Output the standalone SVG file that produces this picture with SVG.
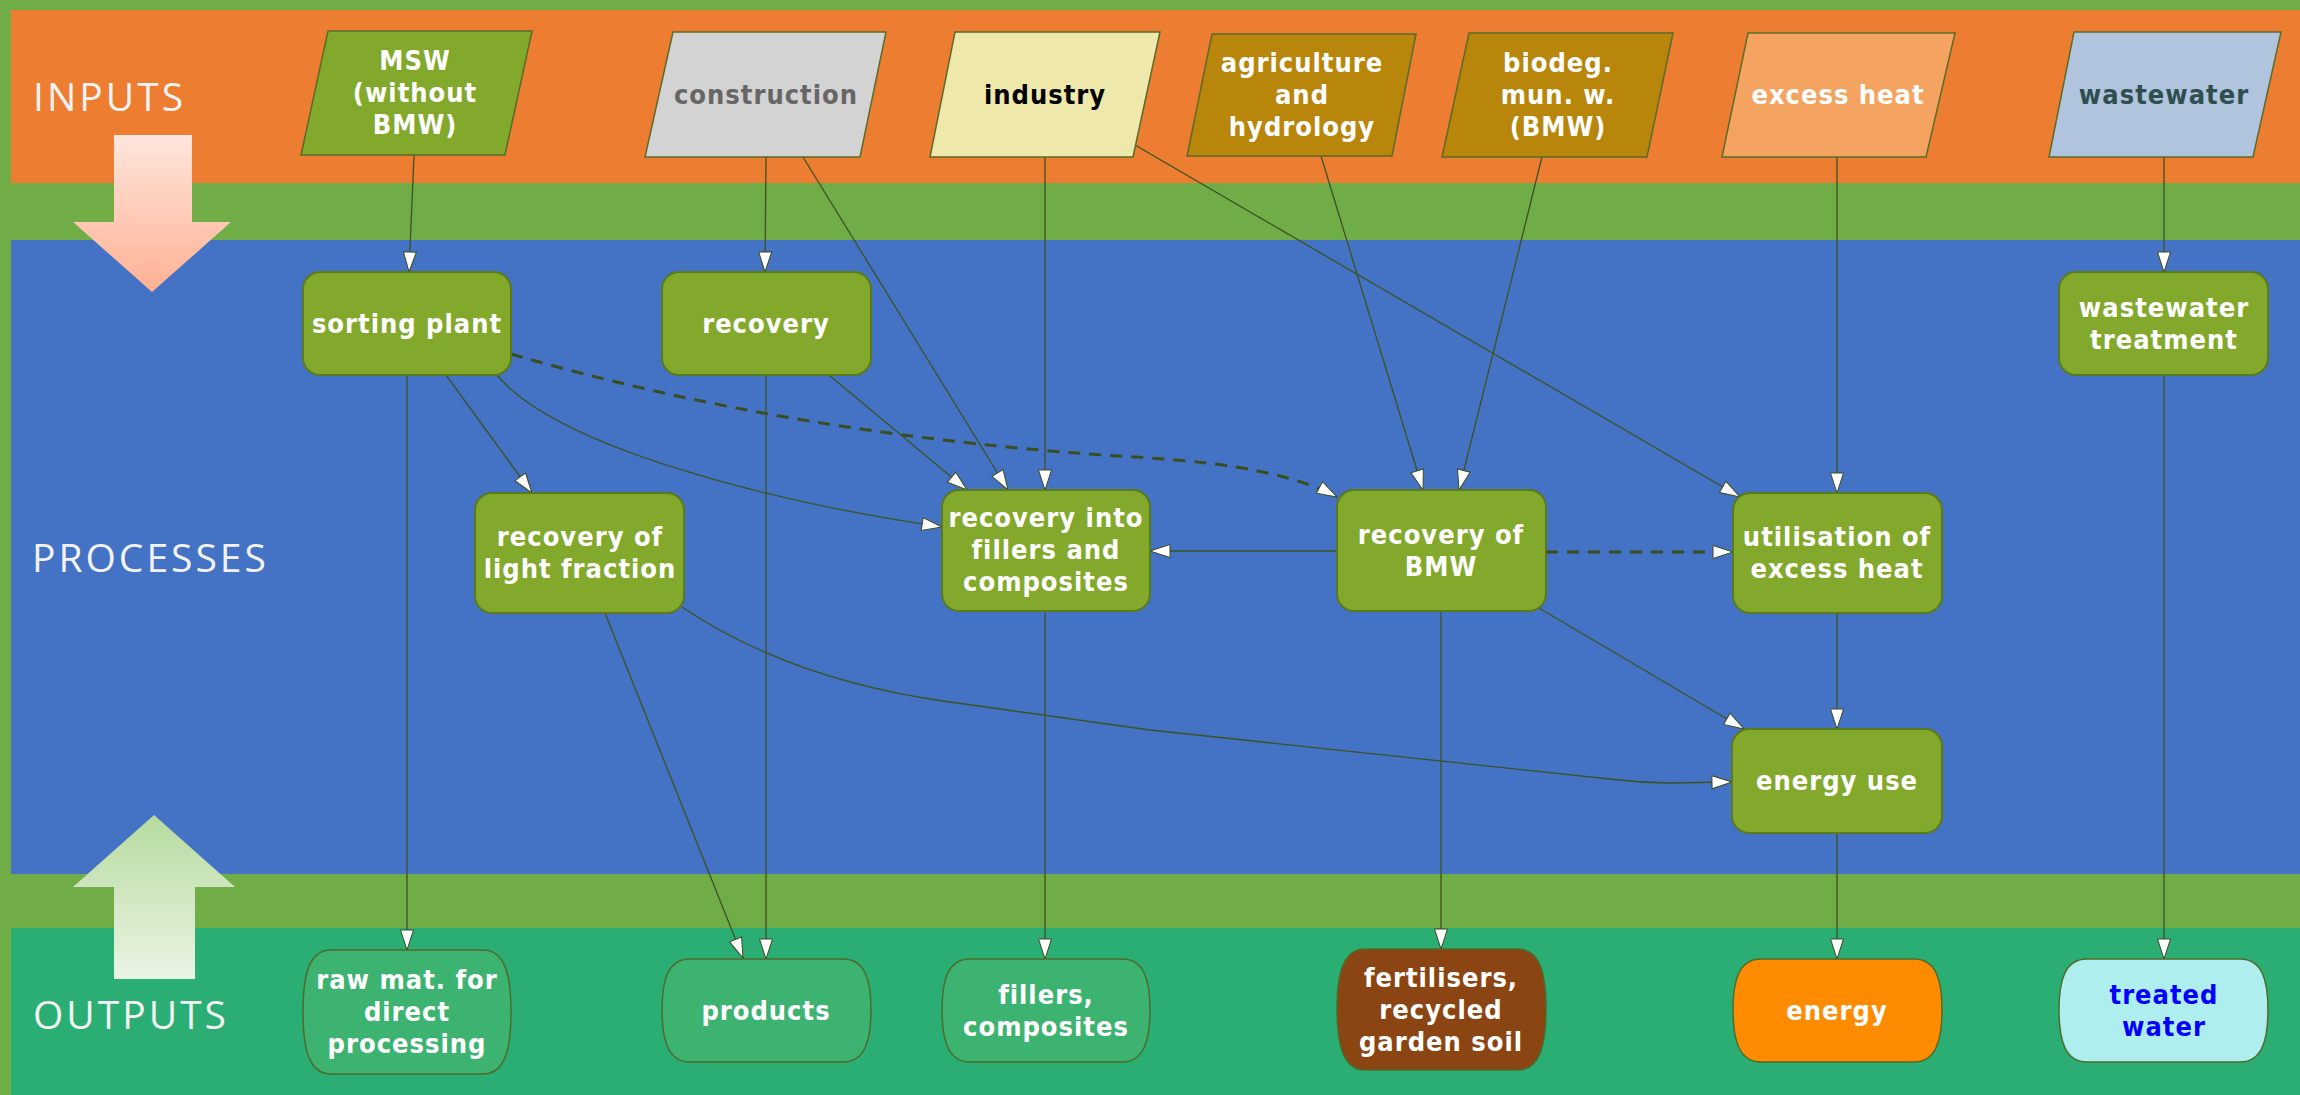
<svg xmlns="http://www.w3.org/2000/svg" width="2300" height="1095" viewBox="0 0 2300 1095">
<defs>
<style>
.lbl{font-family:"Open Sans","DejaVu Sans",sans-serif;font-size:39px;letter-spacing:3px;fill:#F2F2F2}
.t{font-family:"DejaVu Sans Condensed","DejaVu Sans",sans-serif;font-size:27px;font-weight:700;letter-spacing:1px;text-anchor:middle;fill:#FFFFFF}
.proc{fill:#83A92C;stroke:#5A7A1C;stroke-width:2}
.inp{stroke:#5A6B2A;stroke-width:1.5}
.out{stroke:#4F6B2A;stroke-width:1.5}
.c{fill:none;stroke:#3B5323;stroke-width:1.3;marker-end:url(#ah)}
.d{fill:none;stroke:#3A4D1E;stroke-width:3;stroke-dasharray:12 9;marker-end:url(#ah)}
</style>
<marker id="ah" viewBox="0 0 22 16" markerWidth="22" markerHeight="16" refX="21" refY="8" orient="auto" markerUnits="userSpaceOnUse">
<path d="M1,1.5 L21,8 L1,14.5 Z" fill="#FFFFFF" stroke="#3A4A20" stroke-width="1"/>
</marker>
<linearGradient id="gdown" x1="0" y1="0" x2="0" y2="1">
<stop offset="0" stop-color="#FFE6DD"/>
<stop offset="1" stop-color="#FFB193"/>
</linearGradient>
<linearGradient id="gup" x1="0" y1="0" x2="0" y2="1">
<stop offset="0" stop-color="#B6DB9F"/>
<stop offset="1" stop-color="#EBF4E4"/>
</linearGradient>
</defs>

<g id="background">
<rect x="0" y="0" width="2300" height="1095" fill="#70AD47"/>
<rect x="11" y="10" width="2289" height="173" fill="#ED7D31"/>
<rect x="11" y="240" width="2289" height="634" fill="#4472C4"/>
<rect x="11" y="928" width="2289" height="167" fill="#2BAE74"/>
<path d="M114,135 H192 V222 H231 L152,292 L73,222 H114 Z" fill="url(#gdown)"/>
<path d="M154,815 L235,887 H195 V979 H114 V887 H73 Z" fill="url(#gup)"/>
<text class="lbl" x="33" y="111">INPUTS</text>
<text class="lbl" x="32" y="572">PROCESSES</text>
<text class="lbl" x="33" y="1029">OUTPUTS</text>
</g>

<g id="connectors">
<path class="c" d="M414,155 L409,272"/>
<path class="c" d="M766,157 L765,272"/>
<path class="c" d="M803,157 L1008,490"/>
<path class="c" d="M1045,157 L1045,490"/>
<path class="c" d="M1135,145 L1740,497"/>
<path class="c" d="M1321,156 L1423,490"/>
<path class="c" d="M1542,157 L1459,490"/>
<path class="c" d="M1837,157 L1837,493"/>
<path class="c" d="M2164,157 L2164,272"/>
<path class="c" d="M446,375 L532,493"/>
<path class="c" d="M497,375 C555,445 760,500 942,527"/>
<path class="d" d="M511,354 Q800,438 1150,458 Q1280,466 1337,497"/>
<path class="c" d="M829,375 L967,490"/>
<path class="c" d="M1337,551 L1150,551"/>
<path class="d" d="M1546,552 L1733,552"/>
<path class="c" d="M1539,608 L1744,729"/>
<path class="c" d="M1837,613 L1837,729"/>
<path class="c" d="M682,607 Q790,680 950,702 L1150,730 L1619,780 Q1645,783 1670,783 L1732,782"/>
<path class="c" d="M605,613 L743,958"/>
<path class="c" d="M766,375 L766,959"/>
<path class="c" d="M407,375 L407,950"/>
<path class="c" d="M1045,611 L1045,959"/>
<path class="c" d="M1441,611 L1441,949"/>
<path class="c" d="M1837,833 L1837,959"/>
<path class="c" d="M2164,375 L2164,959"/>
</g>

<g id="in-msw">
<polygon class="inp" points="328,31 532,31 505,155 301,155" fill="#83A92C"/>
<text class="t" x="415" y="70">MSW</text>
<text class="t" x="415" y="102">(without</text>
<text class="t" x="415" y="134">BMW)</text>
</g>
<g id="in-construction">
<polygon class="inp" points="673,32 886,32 860,157 645,157" fill="#D3D3D3"/>
<text class="t" x="766" y="104" style="fill:#666666">construction</text>
</g>
<g id="in-industry">
<polygon class="inp" points="955,32 1160,32 1133,157 930,157" fill="#EEE8AA"/>
<text class="t" x="1045" y="104" style="fill:#000000">industry</text>
</g>
<g id="in-agriculture">
<polygon class="inp" points="1212,34 1416,34 1392,156 1187,156" fill="#B8860B"/>
<text class="t" x="1302" y="72">agriculture</text>
<text class="t" x="1302" y="104">and</text>
<text class="t" x="1302" y="136">hydrology</text>
</g>
<g id="in-biodeg">
<polygon class="inp" points="1469,33 1673,33 1647,157 1442,157" fill="#B8860B"/>
<text class="t" x="1558" y="72">biodeg.</text>
<text class="t" x="1558" y="104">mun. w.</text>
<text class="t" x="1558" y="136">(BMW)</text>
</g>
<g id="in-excess-heat">
<polygon class="inp" points="1748,33 1955,33 1926,157 1722,157" fill="#F4A460"/>
<text class="t" x="1838" y="104">excess heat</text>
</g>
<g id="in-wastewater">
<polygon class="inp" points="2074,32 2281,32 2253,157 2049,157" fill="#B0C4DE"/>
<text class="t" x="2164" y="104" style="fill:#2F4F4F">wastewater</text>
</g>

<g id="p-sorting">
<rect class="proc" x="303" y="272" width="208" height="103" rx="17"/>
<text class="t" x="407" y="333">sorting plant</text>
</g>
<g id="p-recovery">
<rect class="proc" x="662" y="272" width="209" height="103" rx="17"/>
<text class="t" x="766" y="333">recovery</text>
</g>
<g id="p-light">
<rect class="proc" x="475" y="493" width="209" height="120" rx="17"/>
<text class="t" x="580" y="546">recovery of</text>
<text class="t" x="580" y="578">light fraction</text>
</g>
<g id="p-fillers">
<rect class="proc" x="942" y="490" width="208" height="121" rx="17"/>
<text class="t" x="1046" y="527">recovery into</text>
<text class="t" x="1046" y="559">fillers and</text>
<text class="t" x="1046" y="591">composites</text>
</g>
<g id="p-bmw">
<rect class="proc" x="1337" y="490" width="209" height="121" rx="17"/>
<text class="t" x="1441" y="544">recovery of</text>
<text class="t" x="1441" y="576">BMW</text>
</g>
<g id="p-heat">
<rect class="proc" x="1733" y="493" width="209" height="120" rx="17"/>
<text class="t" x="1837" y="546">utilisation of</text>
<text class="t" x="1837" y="578">excess heat</text>
</g>
<g id="p-energy-use">
<rect class="proc" x="1732" y="729" width="210" height="104" rx="17"/>
<text class="t" x="1837" y="790">energy use</text>
</g>
<g id="p-wwt">
<rect class="proc" x="2059" y="272" width="209" height="103" rx="17"/>
<text class="t" x="2164" y="317">wastewater</text>
<text class="t" x="2164" y="349">treatment</text>
</g>

<g id="o-raw">
<path class="out" fill="#3CB371" d="M331,950 H483 C505,950 511,975 511,1012 C511,1049 505,1074 483,1074 H331 C309,1074 303,1049 303,1012 C303,975 309,950 331,950 Z"/>
<text class="t" x="407" y="989">raw mat. for</text>
<text class="t" x="407" y="1021">direct</text>
<text class="t" x="407" y="1053">processing</text>
</g>
<g id="o-products">
<path class="out" fill="#3CB371" d="M690,959 H843 C865,959 871,980 871,1010 C871,1040 865,1062 843,1062 H690 C668,1062 662,1040 662,1010 C662,980 668,959 690,959 Z"/>
<text class="t" x="766" y="1020">products</text>
</g>
<g id="o-fillers">
<path class="out" fill="#3CB371" d="M970,959 H1122 C1144,959 1150,980 1150,1010 C1150,1040 1144,1062 1122,1062 H970 C948,1062 942,1040 942,1010 C942,980 948,959 970,959 Z"/>
<text class="t" x="1046" y="1004">fillers,</text>
<text class="t" x="1046" y="1036">composites</text>
</g>
<g id="o-fertilisers">
<path class="out" fill="#8B4513" d="M1365,949 H1518 C1540,949 1546,974 1546,1009 C1546,1044 1540,1070 1518,1070 H1365 C1343,1070 1337,1044 1337,1009 C1337,974 1343,949 1365,949 Z"/>
<text class="t" x="1441" y="987">fertilisers,</text>
<text class="t" x="1441" y="1019">recycled</text>
<text class="t" x="1441" y="1051">garden soil</text>
</g>
<g id="o-energy">
<path class="out" fill="#FF8C00" d="M1761,959 H1914 C1936,959 1942,980 1942,1010 C1942,1040 1936,1062 1914,1062 H1761 C1739,1062 1733,1040 1733,1010 C1733,980 1739,959 1761,959 Z"/>
<text class="t" x="1837" y="1020">energy</text>
</g>
<g id="o-water">
<path class="out" fill="#AFEEEE" d="M2087,959 H2240 C2262,959 2268,980 2268,1010 C2268,1040 2262,1062 2240,1062 H2087 C2065,1062 2059,1040 2059,1010 C2059,980 2065,959 2087,959 Z"/>
<text class="t" x="2164" y="1004" style="fill:#0000FF">treated</text>
<text class="t" x="2164" y="1036" style="fill:#0000FF">water</text>
</g>
</svg>
